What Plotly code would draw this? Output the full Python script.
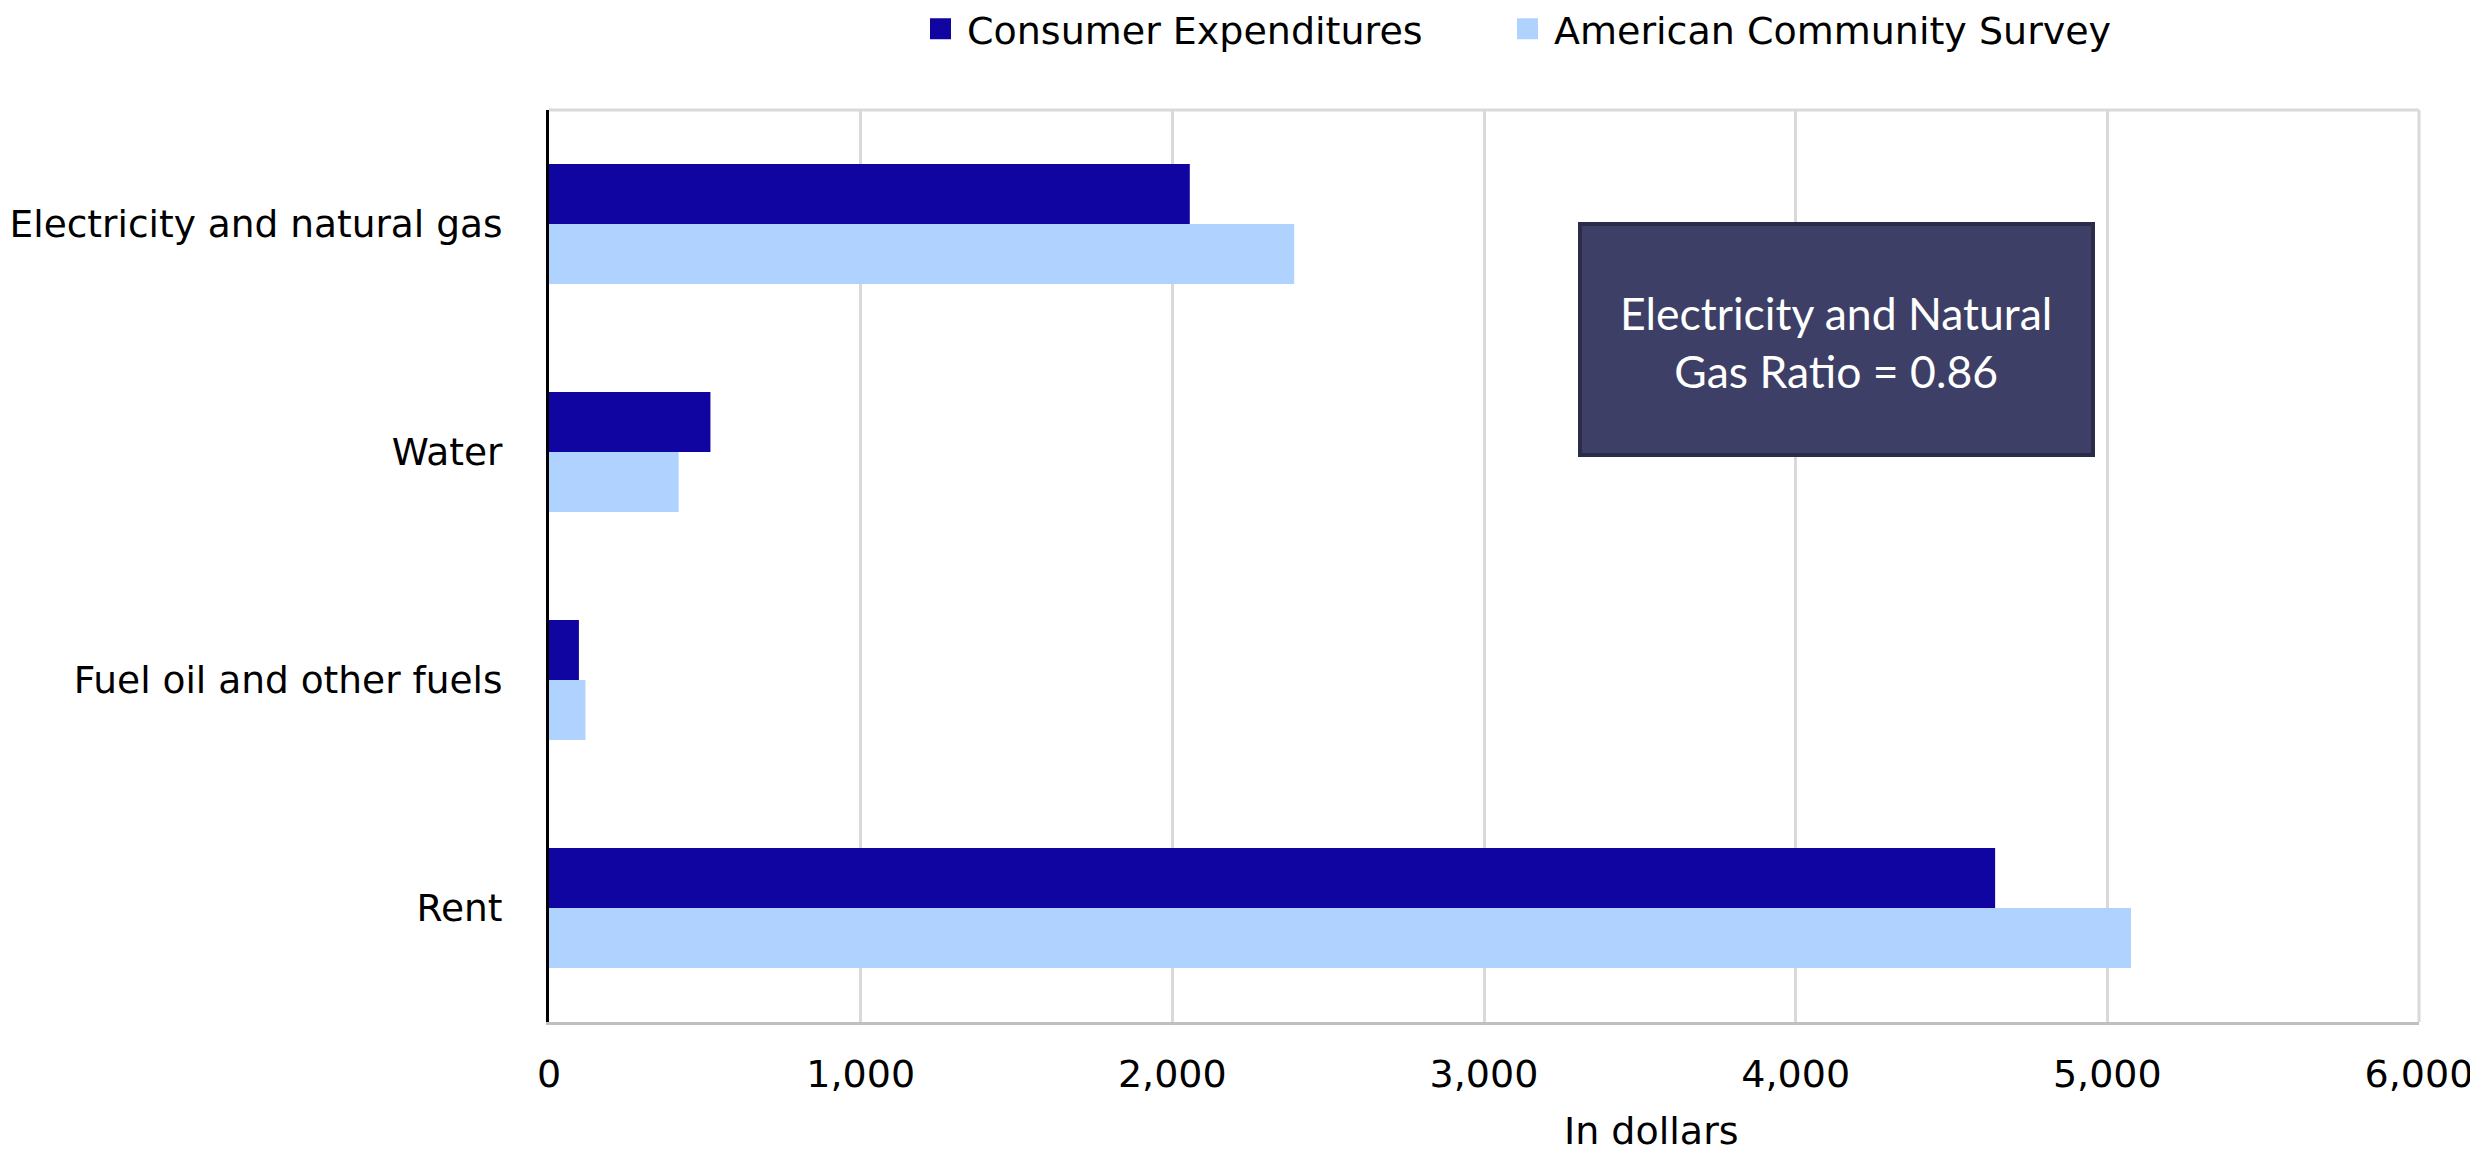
import plotly.graph_objects as go

categories = ["Electricity and natural gas", "Water", "Fuel oil and other fuels", "Rent"]
consumer_expenditures = [2056, 518, 96, 4640]
american_community_survey = [2391, 416, 117, 5076]
x_ticks = [0, 1000, 2000, 3000, 4000, 5000, 6000]
x_tick_labels = ["0", "1,000", "2,000", "3,000", "4,000", "5,000", "6,000"]
series_names = ["Consumer Expenditures", "American Community Survey"]
series_colors = ["#1005A0", "#B0D2FF"]
box_text = "Electricity and Natural<br>Gas Ratio = 0.86"
x_title = "In dollars"

W, H = 2478, 1153
ML, MR, MT, MB = 541, 67, 102, 139
FONT = "DejaVu Sans"
FS = 38

fig = go.Figure()
for name, vals, col in [(series_names[0], consumer_expenditures, series_colors[0]),
                        (series_names[1], american_community_survey, series_colors[1])]:
    fig.add_trace(go.Bar(
        y=categories, x=vals, name=name, orientation="h", showlegend=False,
        marker=dict(color=col, line=dict(width=0)),
    ))
# legend-only entries (bigger square swatches), one legend each for exact placement
for i, (name, col) in enumerate(zip(series_names, series_colors)):
    fig.add_trace(go.Scatter(
        x=[None], y=[None], name=name, mode="markers", showlegend=True,
        legend="legend" if i == 0 else "legend2",
        marker=dict(symbol="square", size=16, color=col, line=dict(color=col, width=5)),
    ))

pw = W - ML - MR
ph = H - MT - MB

def px_x(x):
    return (x - ML) / pw

def px_y(y):
    return (H - MB - y) / ph

legend_common = dict(
    orientation="h", xref="container", yref="container",
    xanchor="left", y=1 - 21 / H, yanchor="middle",
    font=dict(family=FONT, size=FS, color="black"),
    itemwidth=43, bgcolor="rgba(0,0,0,0)",
)

fig.update_layout(
    width=W, height=H,
    margin=dict(l=ML, r=MR, t=MT, b=MB, autoexpand=False),
    paper_bgcolor="white", plot_bgcolor="white",
    barmode="group", bargap=0.474, bargroupgap=0,
    font=dict(family=FONT, size=FS, color="black"),
    showlegend=True,
    legend=dict(x=906 / W, **legend_common),
    legend2=dict(x=1493 / W, **legend_common),
    xaxis=dict(
        range=[0, 6000], tickvals=x_ticks, ticktext=x_tick_labels,
        showgrid=True, gridcolor="#D9D9D9", gridwidth=3,
        showline=True, linecolor="#BFBFBF", linewidth=3,
        zeroline=False, ticks="", ticklabelstandoff=16,
        tickfont=dict(family=FONT, size=FS, color="black"),
        fixedrange=True, automargin=False,
    ),
    yaxis=dict(
        autorange="reversed", categoryorder="array", categoryarray=categories,
        showgrid=False, showline=True, linecolor="black", linewidth=3,
        ticks="", ticklabelstandoff=36,
        tickfont=dict(family=FONT, size=37.5, color="black"),
        fixedrange=True, automargin=False,
    ),
    shapes=[
        dict(type="line", xref="paper", yref="paper", x0=0, x1=1, y0=1, y1=1,
             line=dict(color="#D9D9D9", width=3), layer="below"),
        dict(type="line", xref="paper", yref="paper", x0=1, x1=1, y0=0, y1=1,
             line=dict(color="#D9D9D9", width=3), layer="below"),
        dict(type="rect", xref="paper", yref="paper",
             x0=px_x(1572), x1=px_x(2085), y0=px_y(447), y1=px_y(216),
             fillcolor="#3D3F66", line=dict(color="#2B2C4A", width=4), layer="above"),
    ],
    annotations=[
        dict(text=box_text, xref="paper", yref="paper",
             x=px_x(1828), y=px_y(333), xanchor="center", yanchor="middle",
             showarrow=False, align="center",
             font=dict(family="Lato", size=44.5, color="white")),
        dict(text=x_title, xref="paper", yref="paper",
             x=px_x(1643), y=px_y(1123), xanchor="center", yanchor="middle",
             showarrow=False, font=dict(family=FONT, size=FS, color="black")),
    ],
)

fig.write_html("out.html")
